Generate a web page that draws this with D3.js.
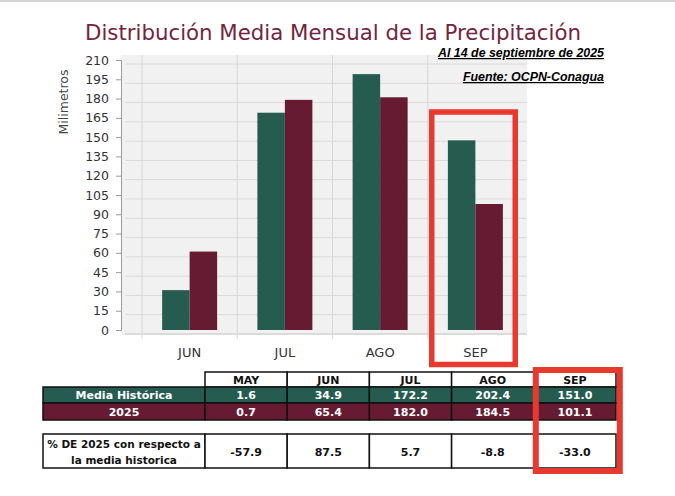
<!DOCTYPE html>
<html>
<head>
<meta charset="utf-8">
<script src="https://cdn.jsdelivr.net/npm/d3@7"></script>
<style>
  body { margin: 0; background: #fff; }
  svg { display: block; }
</style>
</head>
<body>
<div id="chart"></div>
<script>
// valores
const months = ['JUN', 'JUL', 'AGO', 'SEP']
const mediaHistorica = [31, 169, 199, 147.5]
const lluvia2025 = [61, 179, 181, 98]
const yTicks = [0, 15, 30, 45, 60, 75, 90, 105, 120, 135, 150, 165, 180, 195, 210]

// tabla inferior
const tablaMeses = ['MAY', 'JUN', 'JUL', 'AGO', 'SEP']
const tablaHistorica = ['1.6', '34.9', '172.2', '202.4', '151.0']
const tabla2025 = ['0.7', '65.4', '182.0', '184.5', '101.1']
const tablaPorcentaje = ['-57.9', '87.5', '5.7', '-8.8', '-33.0']

const green = '#255c4f'
const maroon = '#661b32'
const red = '#e8392f'
const font = 'DejaVu Sans, sans-serif'

const width = 675
const height = 496

const svg = d3.select('#chart')
  .append('svg')
  .attr('width', width)
  .attr('height', height)

svg.append('rect')
  .attr('x', 0).attr('y', 0)
  .attr('width', width).attr('height', 2)
  .attr('fill', '#d4d4d4')

// titulo
svg.append('text')
  .attr('x', 85)
  .attr('y', 40)
  .attr('font-family', font)
  .attr('font-size', 21.3)
  .attr('fill', '#722540')
  .text('Distribución Media Mensual de la Precipitación')

// area de grafica
const plot = { left: 121, right: 527, top: 55, bottom: 335 }

svg.append('rect')
  .attr('x', plot.left)
  .attr('y', plot.top)
  .attr('width', plot.right - plot.left)
  .attr('height', plot.bottom - plot.top)
  .attr('fill', '#f1f1f1')

const y = d3.scaleLinear()
  .domain([0, 210])
  .range([330, 60])

const x = d3.scaleBand()
  .domain(months)
  .range([142, 523])

const x1 = d3.scaleBand()
  .domain(['hist', 'y2025'])
  .range([0, 55])

// lineas de cuadricula
svg.append('g')
  .selectAll('line')
  .data(yTicks)
  .join('line')
  .attr('x1', 125)
  .attr('x2', plot.right)
  .attr('y1', function (d) { return y(d) + 4 })
  .attr('y2', function (d) { return y(d) + 4 })
  .attr('stroke', function (d) { return d === 0 ? '#c4c4c4' : '#dadada' })
  .attr('stroke-width', 1)

svg.append('g')
  .selectAll('line')
  .data(months)
  .join('line')
  .attr('x1', function (d) { return x(d) })
  .attr('x2', function (d) { return x(d) })
  .attr('y1', plot.top)
  .attr('y2', plot.bottom + 4)
  .attr('stroke', '#d6d6d6')

// eje y
const yAxis = svg.append('g')
  .attr('transform', 'translate(' + plot.left + ',0)')
  .call(d3.axisLeft(y).tickValues(yTicks).tickSize(5).tickPadding(7))

yAxis.select('.domain').attr('stroke', '#9a9a9a')
yAxis.selectAll('.tick line').attr('stroke', '#9a9a9a')
yAxis.selectAll('.tick text')
  .attr('font-family', font)
  .attr('font-size', 12.5)
  .attr('fill', '#333')

svg.append('text')
  .attr('transform', 'translate(68,102) rotate(-90)')
  .attr('text-anchor', 'middle')
  .attr('font-family', font)
  .attr('font-size', 12.5)
  .attr('fill', '#444')
  .text('Milimetros')

// barras
const groups = svg.append('g')
  .selectAll('g')
  .data(months)
  .join('g')
  .attr('transform', function (d) { return 'translate(' + (x(d) + (x.bandwidth() - 55) / 2) + ',0)' })

groups.append('rect')
  .attr('x', x1('hist'))
  .attr('width', x1.bandwidth())
  .attr('y', function (d, i) { return y(mediaHistorica[i]) })
  .attr('height', function (d, i) { return y(0) - y(mediaHistorica[i]) })
  .attr('fill', green)

groups.append('rect')
  .attr('x', x1('y2025'))
  .attr('width', x1.bandwidth())
  .attr('y', function (d, i) { return y(lluvia2025[i]) })
  .attr('height', function (d, i) { return y(0) - y(lluvia2025[i]) })
  .attr('fill', maroon)

// eje x
const xAxis = svg.append('g')
  .attr('transform', 'translate(0,' + plot.bottom + ')')
  .call(d3.axisBottom(x).tickSize(0).tickPadding(13))

xAxis.select('.domain').remove()
xAxis.selectAll('.tick text')
  .attr('font-family', font)
  .attr('font-size', 13)
  .attr('fill', '#333')

// notas
svg.append('text')
  .attr('x', 604)
  .attr('y', 57)
  .attr('text-anchor', 'end')
  .attr('font-family', 'Liberation Sans, Arial, sans-serif')
  .attr('font-size', 12.4)
  .attr('font-weight', 'bold')
  .attr('font-style', 'italic')
  .attr('text-decoration', 'underline')
  .text('Al 14 de septiembre de 2025')

svg.append('text')
  .attr('x', 604)
  .attr('y', 81)
  .attr('text-anchor', 'end')
  .attr('font-family', 'Liberation Sans, Arial, sans-serif')
  .attr('font-size', 12.4)
  .attr('font-weight', 'bold')
  .attr('font-style', 'italic')
  .attr('text-decoration', 'underline')
  .text('Fuente: OCPN-Conagua')

// recuadro rojo en SEP
svg.append('rect')
  .attr('x', x('SEP') + 4)
  .attr('y', 112)
  .attr('width', 83.5)
  .attr('height', 252.5)
  .attr('fill', 'none')
  .attr('stroke', red)
  .attr('stroke-width', 5.5)

// tabla
const tx = d3.scaleBand()
  .domain(tablaMeses)
  .range([205, 616])
const labelLeft = 43

const rows = [
  { top: 387, h: 16, fill: green, label: 'Media Histórica', values: tablaHistorica },
  { top: 403, h: 17, fill: maroon, label: '2025', values: tabla2025 }
]

// encabezado
const head = svg.append('g')
head.selectAll('rect')
  .data(tablaMeses)
  .join('rect')
  .attr('x', function (d) { return tx(d) })
  .attr('y', 372)
  .attr('width', tx.bandwidth())
  .attr('height', 15)
  .attr('fill', '#fff')
  .attr('stroke', '#111')
  .attr('stroke-width', 1.5)
head.selectAll('text')
  .data(tablaMeses)
  .join('text')
  .attr('x', function (d) { return tx(d) + tx.bandwidth() / 2 })
  .attr('y', 384)
  .attr('text-anchor', 'middle')
  .attr('font-family', font)
  .attr('font-size', 11)
  .attr('font-weight', 'bold')
  .attr('fill', '#111')
  .text(function (d) { return d })

rows.forEach(function (r) {
  const g = svg.append('g')
  g.append('rect')
    .attr('x', labelLeft)
    .attr('y', r.top)
    .attr('width', tx.range()[0] - labelLeft)
    .attr('height', r.h)
    .attr('fill', r.fill)
    .attr('stroke', '#111')
    .attr('stroke-width', 1.5)
  g.append('text')
    .attr('x', (labelLeft + tx.range()[0]) / 2)
    .attr('y', r.top + r.h / 2 + 4)
    .attr('text-anchor', 'middle')
    .attr('font-family', font)
    .attr('font-size', 11)
    .attr('font-weight', 'bold')
    .attr('fill', '#fff')
    .text(r.label)
  g.selectAll('rect.cell')
    .data(tablaMeses)
    .join('rect')
    .attr('class', 'cell')
    .attr('x', function (d) { return tx(d) })
    .attr('y', r.top)
    .attr('width', tx.bandwidth())
    .attr('height', r.h)
    .attr('fill', r.fill)
    .attr('stroke', '#111')
    .attr('stroke-width', 1.5)
  g.selectAll('text.val')
    .data(r.values)
    .join('text')
    .attr('class', 'val')
    .attr('x', function (d, i) { return tx(tablaMeses[i]) + tx.bandwidth() / 2 })
    .attr('y', r.top + r.h / 2 + 4)
    .attr('text-anchor', 'middle')
    .attr('font-family', font)
    .attr('font-size', 11)
    .attr('font-weight', 'bold')
    .attr('fill', '#fff')
    .text(function (d) { return d })
})

// fila de porcentaje
const pct = svg.append('g')
pct.append('rect')
  .attr('x', labelLeft)
  .attr('y', 434)
  .attr('width', tx.range()[0] - labelLeft)
  .attr('height', 34)
  .attr('fill', '#fff')
  .attr('stroke', '#111')
  .attr('stroke-width', 1.5)
pct.append('text')
  .attr('x', (labelLeft + tx.range()[0]) / 2)
  .attr('y', 448)
  .attr('text-anchor', 'middle')
  .attr('font-family', font)
  .attr('font-size', 10.5)
  .attr('font-weight', 'bold')
  .attr('fill', '#111')
  .text('% DE 2025 con respecto a')
pct.append('text')
  .attr('x', (labelLeft + tx.range()[0]) / 2)
  .attr('y', 464)
  .attr('text-anchor', 'middle')
  .attr('font-family', font)
  .attr('font-size', 10.5)
  .attr('font-weight', 'bold')
  .attr('fill', '#111')
  .text('la media historica')
pct.selectAll('rect.cell')
  .data(tablaMeses)
  .join('rect')
  .attr('class', 'cell')
  .attr('x', function (d) { return tx(d) })
  .attr('y', 434)
  .attr('width', tx.bandwidth())
  .attr('height', 34)
  .attr('fill', '#fff')
  .attr('stroke', '#111')
  .attr('stroke-width', 1.5)
pct.selectAll('text.val')
  .data(tablaPorcentaje)
  .join('text')
  .attr('class', 'val')
  .attr('x', function (d, i) { return tx(tablaMeses[i]) + tx.bandwidth() / 2 })
  .attr('y', 456)
  .attr('text-anchor', 'middle')
  .attr('font-family', font)
  .attr('font-size', 11)
  .attr('font-weight', 'bold')
  .attr('fill', '#111')
  .text(function (d) { return d })

// recuadro rojo en la tabla
svg.append('rect')
  .attr('x', tx('SEP') + 2)
  .attr('y', 370)
  .attr('width', 84)
  .attr('height', 101)
  .attr('fill', 'none')
  .attr('stroke', red)
  .attr('stroke-width', 6)
</script>
</body>
</html>
